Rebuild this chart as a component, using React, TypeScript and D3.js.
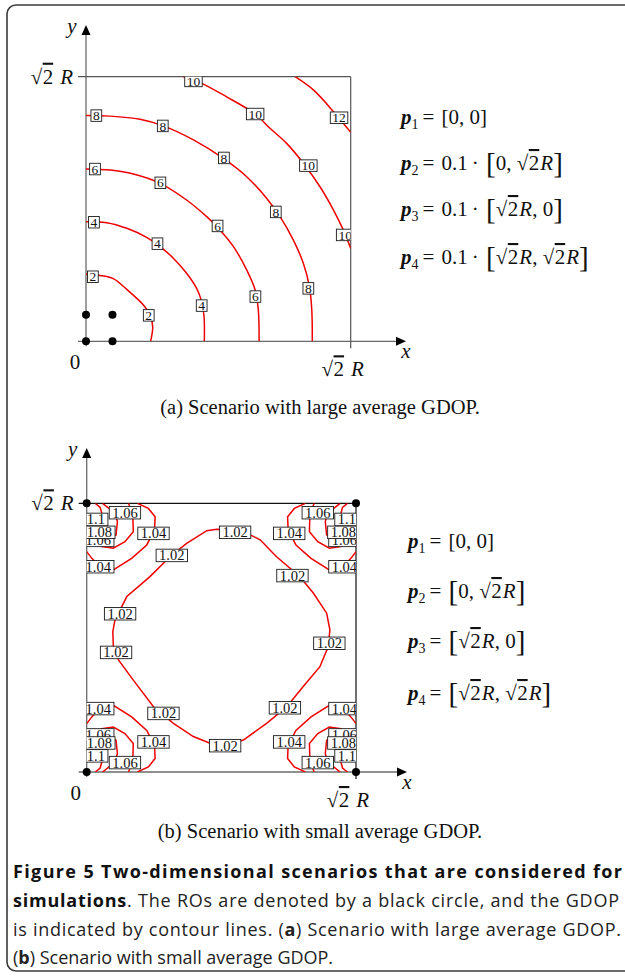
import React from 'react';
import * as d3 from 'd3';

type Pt = [number, number];

// ---------- Scenario (a): contour levels of the GDOP (positions in units of sqrt(2) R) ----------
const gdopA2: Pt[] = [[0, 0.253], [0.053, 0.249], [0.103, 0.237], [0.154, 0.196], [0.217, 0.137], [0.242, 0.099], [0.252, 0.055], [0.244, 0]];
const gdopA4: Pt[] = [[0, 0.452], [0.078, 0.448], [0.154, 0.427], [0.229, 0.393], [0.28, 0.358], [0.33, 0.314], [0.38, 0.257], [0.418, 0.2], [0.437, 0.15], [0.446, 0.093], [0.447, 0]];
const gdopA6: Pt[] = [[0, 0.651], [0.091, 0.647], [0.179, 0.632], [0.28, 0.597], [0.38, 0.534], [0.456, 0.471], [0.506, 0.421], [0.557, 0.358], [0.607, 0.27], [0.639, 0.194], [0.651, 0.118], [0.654, 0]];
const gdopA8: Pt[] = [[0, 0.853], [0.091, 0.851], [0.204, 0.839], [0.292, 0.814], [0.406, 0.761], [0.519, 0.691], [0.607, 0.622], [0.683, 0.54], [0.733, 0.471], [0.783, 0.383], [0.821, 0.295], [0.844, 0.207], [0.853, 0.118], [0.855, 0]];
const gdopA10: Pt[] = [[0.368, 1.0], [0.437, 0.975], [0.531, 0.924], [0.639, 0.859], [0.695, 0.805], [0.758, 0.748], [0.821, 0.673], [0.884, 0.584], [0.935, 0.496], [0.972, 0.421], [1.0, 0.351]];
const gdopA12: Pt[] = [[0.79, 1.0], [0.859, 0.95], [0.935, 0.868], [0.972, 0.824], [1.0, 0.79]];
const contoursA: Pt[][] = [gdopA2, gdopA4, gdopA6, gdopA8, gdopA10, gdopA12];

// inline level labels [u, v, text]
const labelsA: [number, number, string][] = [
  [0.406, 0.984, '10'], [0.639, 0.859, '10'], [0.956, 0.845, '12'],
  [0.039, 0.853, '8'], [0.29, 0.814, '8'], [0.521, 0.693, '8'], [0.84, 0.664, '10'],
  [0.034, 0.651, '6'], [0.281, 0.599, '6'], [0.717, 0.489, '8'], [0.497, 0.436, '6'],
  [0.979, 0.402, '10'], [0.03, 0.45, '4'], [0.27, 0.369, '4'], [0.64, 0.169, '6'],
  [0.84, 0.2, '8'], [0.026, 0.244, '2'], [0.237, 0.098, '2'], [0.437, 0.135, '4'],
];
// reference objects
const rosA: Pt[] = [[0, 0], [0, 0.1], [0.1, 0], [0.1, 0.1]];

// ---------- Scenario (b) ----------
const gdopB102: Pt[] = [[0.52, 0.901], [0.483, 0.903], [0.446, 0.898], [0.371, 0.851], [0.309, 0.801], [0.235, 0.727], [0.149, 0.653], [0.105, 0.566], [0.097, 0.522], [0.099, 0.467], [0.118, 0.417], [0.173, 0.342], [0.248, 0.243], [0.322, 0.181], [0.396, 0.132], [0.458, 0.107], [0.52, 0.1], [0.582, 0.119], [0.668, 0.181], [0.743, 0.243], [0.804, 0.318], [0.866, 0.392], [0.897, 0.467], [0.903, 0.529], [0.891, 0.591], [0.842, 0.665], [0.792, 0.727], [0.705, 0.801], [0.644, 0.864], [0.582, 0.895]];

const gdopB11TL: Pt[] = [[0.032, 1.0], [0.05, 0.985], [0.056, 0.963], [0.037, 0.935], [0, 0.919]];
const gdopB108TL: Pt[] = [[0.059, 1.0], [0.105, 0.963], [0.114, 0.932], [0.109, 0.882], [0.087, 0.873], [0, 0.882]];
const gdopB106TL: Pt[] = [[0.155, 1.0], [0.171, 0.963], [0.173, 0.894], [0.142, 0.857], [0.099, 0.833], [0.056, 0.839], [0.025, 0.854], [0, 0.851]];
const gdopB104TL: Pt[] = [[0.188, 1.0], [0.229, 0.981], [0.254, 0.95], [0.252, 0.901], [0.223, 0.845], [0.167, 0.795], [0.099, 0.752], [0.05, 0.762], [0.019, 0.795], [0, 0.82]];

const gdopB11TR: Pt[] = [[0.968, 1.0], [0.95, 0.985], [0.944, 0.963], [0.963, 0.935], [1, 0.919]];
const gdopB108TR: Pt[] = [[0.941, 1.0], [0.895, 0.963], [0.886, 0.932], [0.891, 0.882], [0.913, 0.873], [1, 0.882]];
const gdopB106TR: Pt[] = [[0.845, 1.0], [0.829, 0.963], [0.827, 0.894], [0.858, 0.857], [0.901, 0.833], [0.944, 0.839], [0.975, 0.854], [1, 0.851]];
const gdopB104TR: Pt[] = [[0.812, 1.0], [0.771, 0.981], [0.746, 0.95], [0.748, 0.901], [0.777, 0.845], [0.833, 0.795], [0.901, 0.752], [0.95, 0.762], [0.981, 0.795], [1, 0.82]];

const gdopB11BL: Pt[] = [[0.032, 0], [0.05, 0.015], [0.056, 0.037], [0.037, 0.065], [0, 0.081]];
const gdopB108BL: Pt[] = [[0.059, 0], [0.105, 0.037], [0.114, 0.068], [0.109, 0.118], [0.087, 0.127], [0, 0.118]];
const gdopB106BL: Pt[] = [[0.155, 0], [0.171, 0.037], [0.173, 0.106], [0.142, 0.143], [0.099, 0.167], [0.056, 0.161], [0.025, 0.146], [0, 0.149]];
const gdopB104BL: Pt[] = [[0.188, 0], [0.229, 0.019], [0.254, 0.05], [0.252, 0.099], [0.223, 0.155], [0.167, 0.205], [0.099, 0.248], [0.05, 0.238], [0.019, 0.205], [0, 0.18]];

const gdopB11BR: Pt[] = [[0.968, 0], [0.95, 0.015], [0.944, 0.037], [0.963, 0.065], [1, 0.081]];
const gdopB108BR: Pt[] = [[0.941, 0], [0.895, 0.037], [0.886, 0.068], [0.891, 0.118], [0.913, 0.127], [1, 0.118]];
const gdopB106BR: Pt[] = [[0.845, 0], [0.829, 0.037], [0.827, 0.106], [0.858, 0.143], [0.901, 0.167], [0.944, 0.161], [0.975, 0.146], [1, 0.149]];
const gdopB104BR: Pt[] = [[0.812, 0], [0.771, 0.019], [0.746, 0.05], [0.748, 0.099], [0.777, 0.155], [0.833, 0.205], [0.901, 0.248], [0.95, 0.238], [0.981, 0.205], [1, 0.18]];

const cornerContoursB: Pt[][] = [
  gdopB11TL, gdopB108TL, gdopB106TL, gdopB104TL,
  gdopB11TR, gdopB108TR, gdopB106TR, gdopB104TR,
  gdopB11BL, gdopB108BL, gdopB106BL, gdopB104BL,
  gdopB11BR, gdopB108BR, gdopB106BR, gdopB104BR,
];

const labelsB: [number, number, string][] = [
  [0.551, 0.892, '1.02'], [0.316, 0.806, '1.02'], [0.124, 0.589, '1.02'], [0.109, 0.445, '1.02'],
  [0.285, 0.218, '1.02'], [0.514, 0.098, '1.02'], [0.736, 0.239, '1.02'], [0.901, 0.479, '1.02'], [0.764, 0.731, '1.02'],
  // top-left
  [0.248, 0.888, '1.04'], [0.043, 0.764, '1.04'], [0.142, 0.965, '1.06'], [0.043, 0.862, '1.06'], [0.047, 0.892, '1.08'], [0.034, 0.94, '1.1'],
  // top-right
  [0.752, 0.888, '1.04'], [0.957, 0.764, '1.04'], [0.858, 0.965, '1.06'], [0.957, 0.862, '1.06'], [0.953, 0.892, '1.08'], [0.966, 0.94, '1.1'],
  // bottom-left
  [0.248, 0.112, '1.04'], [0.043, 0.236, '1.04'], [0.142, 0.035, '1.06'], [0.043, 0.138, '1.06'], [0.047, 0.108, '1.08'], [0.034, 0.06, '1.1'],
  // bottom-right
  [0.752, 0.112, '1.04'], [0.957, 0.236, '1.04'], [0.858, 0.035, '1.06'], [0.957, 0.138, '1.06'], [0.953, 0.108, '1.08'], [0.966, 0.06, '1.1'],
];
const rosB: Pt[] = [[0, 0], [0, 1], [1, 0], [1, 1]];

const SERIF = '"Liberation Serif", "Times New Roman", serif';
const SANS = '"Open Sans", "Noto Sans", sans-serif';
const NBSP = '\u00A0';

// width of a numeric label in em (Times-like digit metrics)
const emWidth = (s: string) => s.split('').reduce((a, c) => a + (c === '.' ? 0.25 : 0.5), 0);

interface PanelProps {
  left: number; right: number; top: number; bottom: number;
  yTip: number; xTip: number;
  contours: Pt[][]; closed?: Pt[][]; smooth: boolean;
  labels: [number, number, string][]; fs: number; pad: number; lh: number;
  ros: Pt[]; id: string; boxColor: string;
}

// sqrt(2) R, with the vinculum drawn as an overline on the 2
const SqrtTwoR = ({ gap = 4 }: { gap?: number }) => (
  <>
    <tspan>√</tspan>
    <tspan dx={0.5} style={{ textDecoration: 'overline' }}>2</tspan>
    <tspan dx={gap} fontStyle="italic">R</tspan>
  </>
);

const Panel = (p: PanelProps) => {
  const x = d3.scaleLinear().domain([0, 1]).range([p.left, p.right]);
  const y = d3.scaleLinear().domain([0, 1]).range([p.bottom, p.top]);
  const line = d3.line<Pt>().x(d => x(d[0])).y(d => y(d[1]))
    .curve(p.smooth ? d3.curveCatmullRom : d3.curveLinear);
  const loop = d3.line<Pt>().x(d => x(d[0])).y(d => y(d[1])).curve(d3.curveLinearClosed);
  const axisColor = '#6a6a6a';
  return (
    <g>
      <defs>
        <clipPath id={p.id}>
          <rect x={p.left} y={p.top} width={p.right - p.left} height={p.bottom - p.top} />
        </clipPath>
      </defs>
      {/* axes */}
      <line x1={p.left} x2={p.left} y1={p.bottom + 5} y2={p.yTip + 8} stroke={axisColor} strokeWidth={1.3} />
      <path d={`M${p.left},${p.yTip} L${p.left - 4.5},${p.yTip + 10} L${p.left + 4.5},${p.yTip + 10} Z`} fill="#000" />
      <line x1={p.left - 8} x2={p.xTip - 8} y1={p.bottom} y2={p.bottom} stroke={axisColor} strokeWidth={1.3} />
      <path d={`M${p.xTip},${p.bottom} L${p.xTip - 10},${p.bottom - 4.5} L${p.xTip - 10},${p.bottom + 4.5} Z`} fill="#000" />
      {/* plot frame with ticks at sqrt(2) R */}
      <line x1={p.left - 8} x2={p.right} y1={p.top} y2={p.top} stroke={p.boxColor} strokeWidth={1.2} />
      <line x1={p.right} x2={p.right} y1={p.top} y2={p.bottom + 7} stroke={p.boxColor} strokeWidth={1.2} />
      <g clipPath={`url(#${p.id})`}>
        {p.contours.map((c, i) => (
          <path key={i} d={line(c) || ''} fill="none" stroke="#ee0000" strokeWidth={1.5} />
        ))}
        {(p.closed || []).map((c, i) => (
          <path key={'c' + i} d={loop(c) || ''} fill="none" stroke="#ee0000" strokeWidth={1.5} />
        ))}
        {p.labels.map(([u, v, t], i) => {
          const w = emWidth(t) * p.fs + 2 * p.pad;
          const cx = x(u), cy = y(v);
          return (
            <g key={'l' + i}>
              <rect x={cx - w / 2} y={cy - p.lh / 2} width={w} height={p.lh} fill="#fff" stroke="#1a1a1a" strokeWidth={0.9} />
              <text x={cx} y={cy + p.fs * 0.34} textAnchor="middle" fontSize={p.fs} fontFamily={SERIF} fill="#111">{t}</text>
            </g>
          );
        })}
      </g>
      {p.ros.map((d, i) => (
        <circle key={'r' + i} cx={x(d[0])} cy={y(d[1])} r={4} fill="#000" />
      ))}
      {/* axis annotations */}
      <g fontSize={21} fontFamily={SERIF} fill="#111">
        <text x={p.left - 14} y={p.yTip + 8} fontStyle="italic" textAnchor="middle">y</text>
        <text x={p.left - 13} y={p.top + 7} textAnchor="end"><SqrtTwoR gap={7} /></text>
        <text x={p.left - 11} y={p.bottom + 28} textAnchor="middle">0</text>
        <text x={p.right - 8} y={p.bottom + 35} textAnchor="middle"><SqrtTwoR gap={7} /></text>
        <text x={p.xTip} y={p.bottom + 17} fontStyle="italic" textAnchor="middle">x</text>
      </g>
    </g>
  );
};

const PVec = ({ n }: { n: string }) => (
  <>
    <tspan fontWeight="bold" fontStyle="italic">p</tspan>
    <tspan fontSize={14} dy={5}>{n}</tspan>
    <tspan dy={-5} dx={4}>=</tspan>
    <tspan dx={2}>{NBSP}</tspan>
  </>
);

// content wrapped in tall brackets; the bracket glyphs sit slightly lower, centred on the math axis
const Bracketed = ({ children }: { children: React.ReactNode }) => (
  <>
    <tspan fontSize={29} dy={3}>[</tspan>
    <tspan dy={-3}>{children}</tspan>
    <tspan fontSize={29} dy={3}>]</tspan>
  </>
);

const Legend = ({ x, ys, scaled }: { x: number; ys: number[]; scaled: boolean }) => {
  const k = scaled ? <>0.1<tspan dx={4}>·</tspan><tspan dx={2}>{NBSP}</tspan></> : null;
  return (
    <g fontFamily={SERIF} fontSize={21} fill="#111">
      <text x={x} y={ys[0]}><PVec n="1" />[0, 0]</text>
      <text x={x} y={ys[1]}><PVec n="2" />{k}<Bracketed>0, <SqrtTwoR gap={1} /></Bracketed></text>
      <text x={x} y={ys[2]}><PVec n="3" />{k}<Bracketed><SqrtTwoR gap={1} />, 0</Bracketed></text>
      <text x={x} y={ys[3]}><PVec n="4" />{k}<Bracketed><SqrtTwoR gap={1} />, <SqrtTwoR gap={1} /></Bracketed></text>
    </g>
  );
};

export default function App() {
  return (
    <svg width={625} height={977} style={{ position: 'absolute', left: 0, top: 0, display: 'block', background: '#fff' }}>
      <rect x={7} y={5} width={645} height={966} rx={9} fill="none" stroke="#3a3a3a" strokeWidth={1.6} />

      <Panel left={86} right={350.7} top={76.7} bottom={341.3} yTip={25} xTip={406}
        contours={contoursA} smooth={true} labels={labelsA} fs={13.5} pad={2} lh={11.5}
        ros={rosA} id="clipA" boxColor="#555" />
      <Legend x={401} ys={[124, 170, 216, 264]} scaled={true} />
      <text x={320} y={414} fontSize={20.5} fontFamily={SERIF} textAnchor="middle" fill="#111">(a) Scenario with large average GDOP.</text>

      <Panel left={86.7} right={356} top={503.3} bottom={772} yTip={448} xTip={407}
        contours={cornerContoursB} closed={[gdopB102]} smooth={false} labels={labelsB} fs={14.5} pad={3} lh={12.5}
        ros={rosB} id="clipB" boxColor="#111" />
      <Legend x={408} ys={[548, 598, 648, 700]} scaled={false} />
      <text x={320} y={838} fontSize={20.5} fontFamily={SERIF} textAnchor="middle" fill="#111">(b) Scenario with small average GDOP.</text>

      <g fontFamily={SANS} fontSize={18} fill="#222">
        <text x={13} y={878} textLength={609} lengthAdjust="spacing" fontWeight="bold" fill="#111">Figure 5 Two-dimensional scenarios that are considered for</text>
        <text x={13} y={907} textLength={606} lengthAdjust="spacing"><tspan fontWeight="bold" fill="#111">simulations</tspan>. The ROs are denoted by a black circle, and the GDOP</text>
        <text x={13} y={936} textLength={608} lengthAdjust="spacing">is indicated by contour lines. (<tspan fontWeight="bold">a</tspan>) Scenario with large average GDOP.</text>
        <text x={13} y={964}>(<tspan fontWeight="bold">b</tspan>) Scenario with small average GDOP.</text>
      </g>
    </svg>
  );
}
